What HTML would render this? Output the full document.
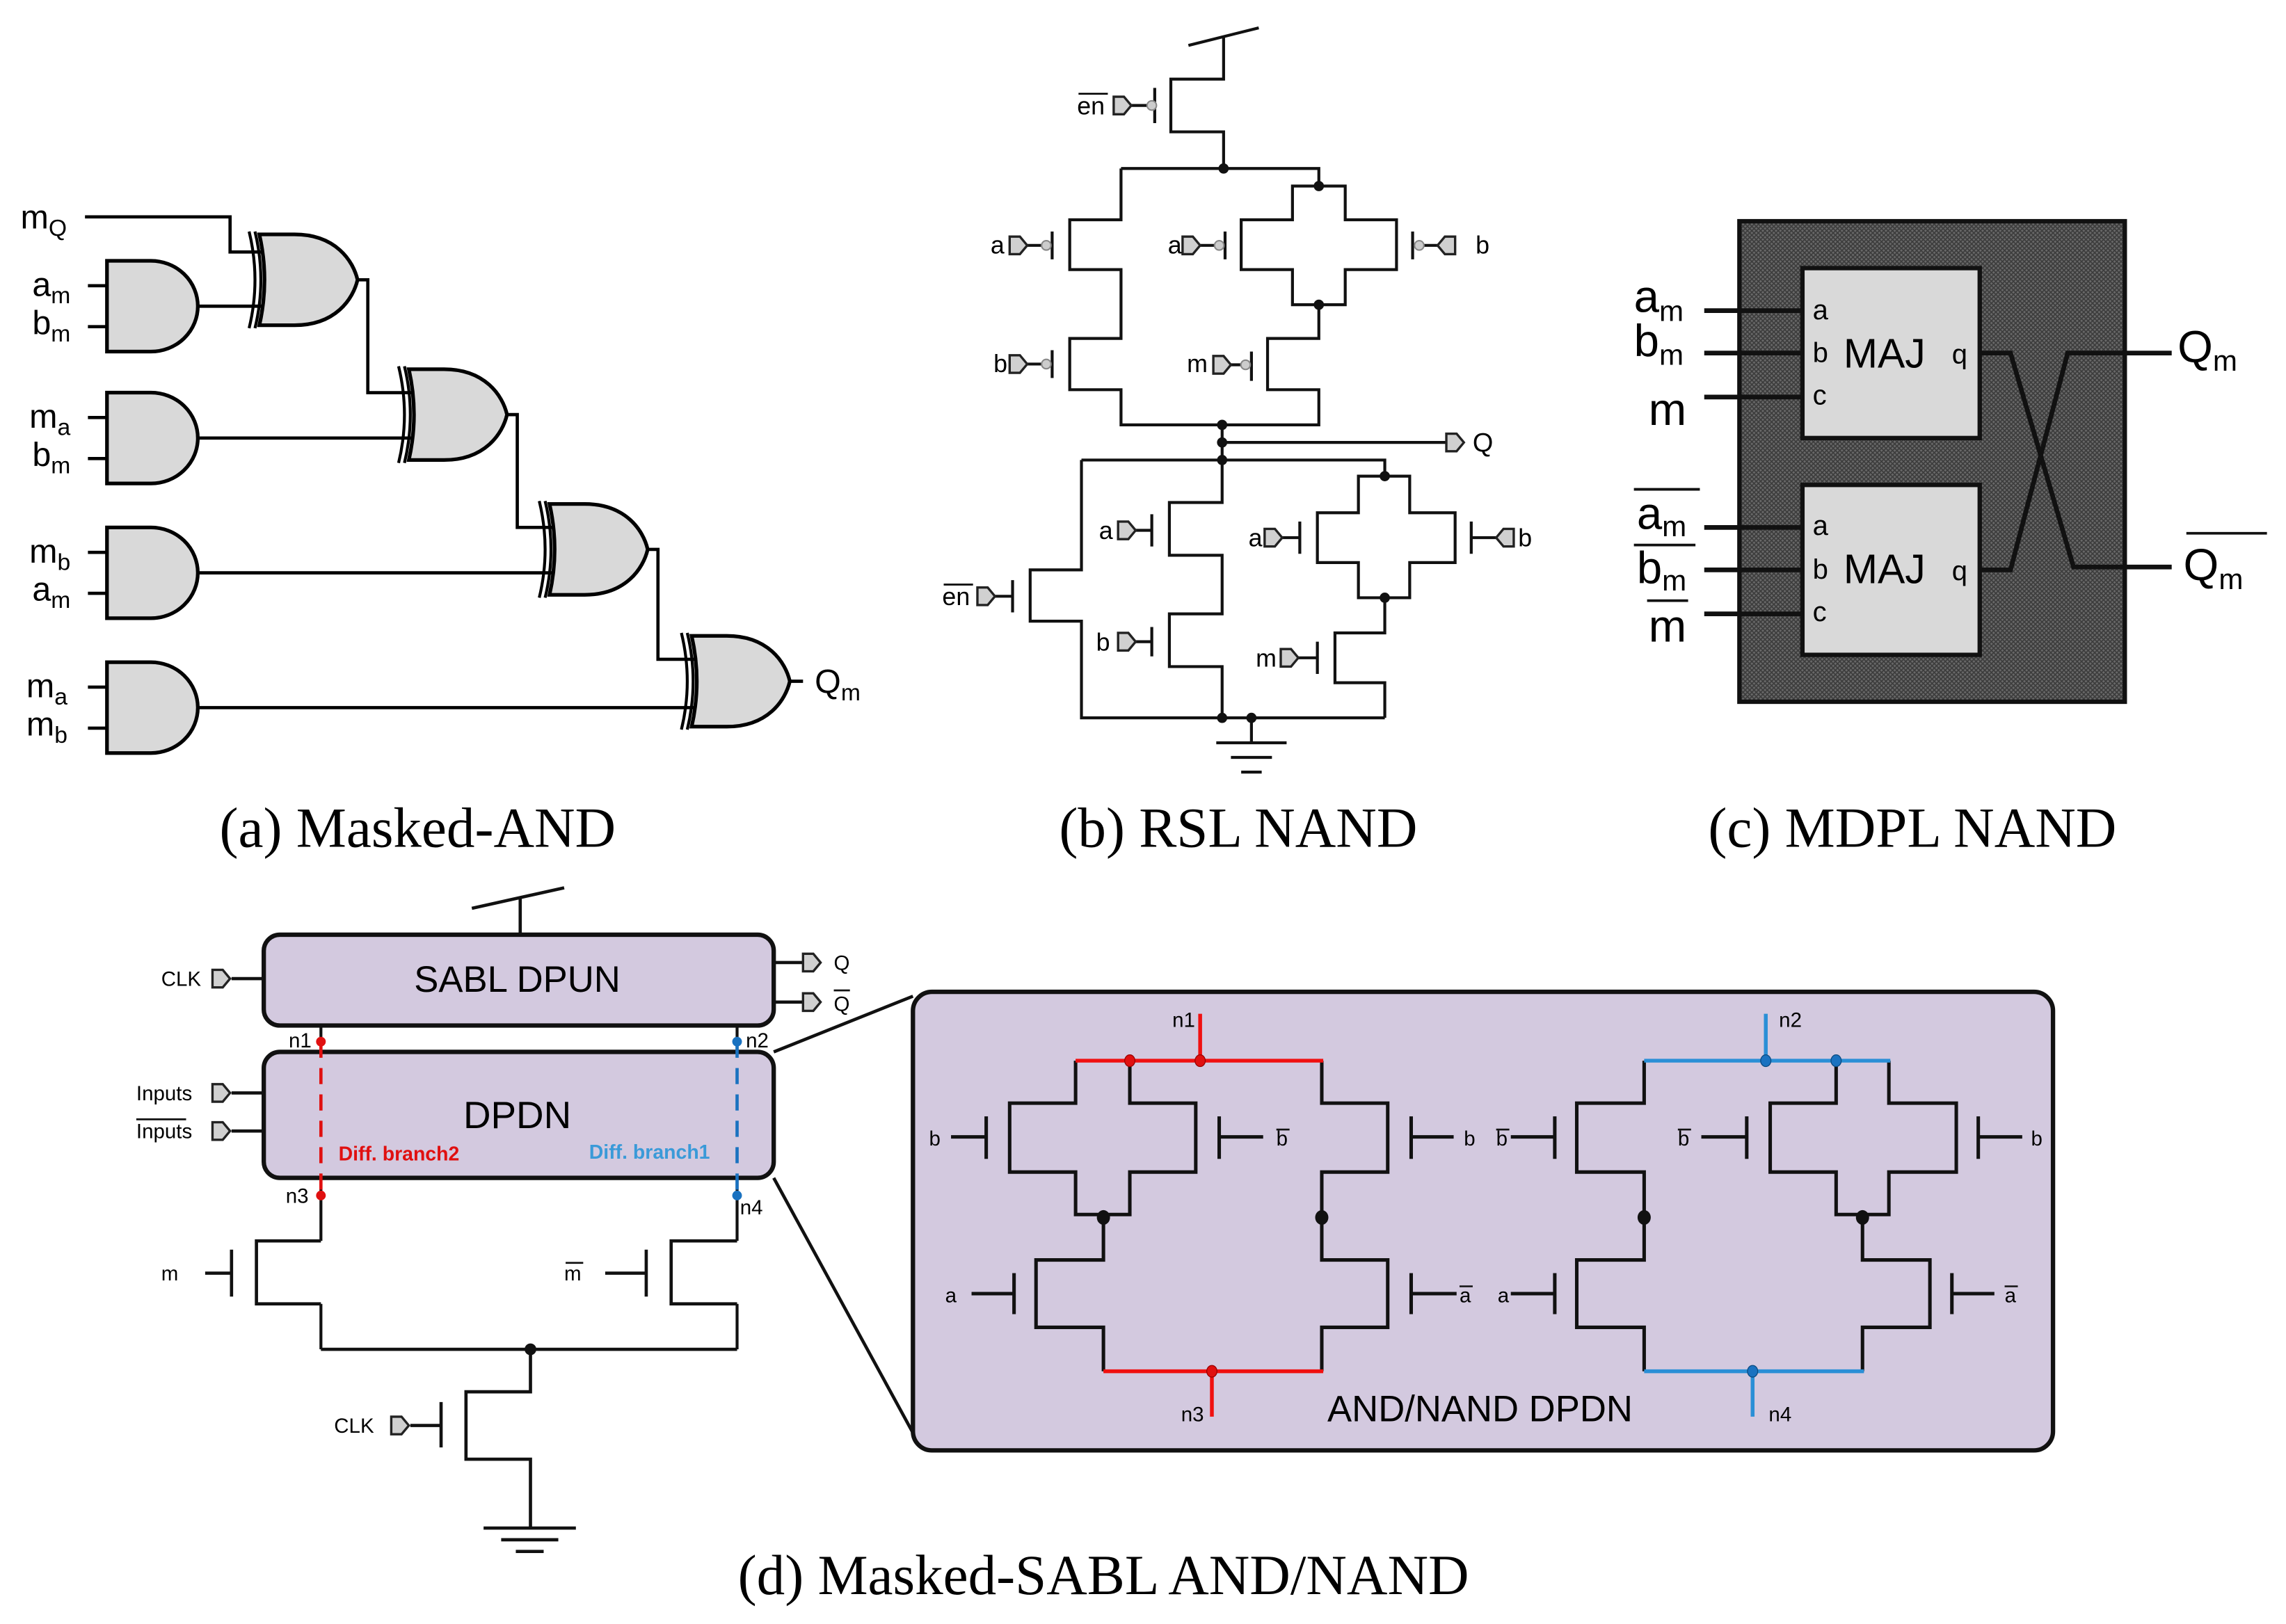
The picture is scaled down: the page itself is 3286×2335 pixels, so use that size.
<!DOCTYPE html>
<html><head><meta charset="utf-8"><style>
html,body{margin:0;padding:0;background:#fff;}
svg{display:block;}
text{font-family:"Liberation Sans",sans-serif;fill:#000;}
.serif{font-family:"Liberation Serif",serif;}
.nar{font-family:"Liberation Sans Narrow","Liberation Sans",sans-serif;}
</style></head><body>
<svg width="3286" height="2335" viewBox="0 0 1560 1108.5" preserveAspectRatio="none" xmlns="http://www.w3.org/2000/svg">
<defs>
<pattern id="hatch" width="3" height="3" patternUnits="userSpaceOnUse">
<rect width="3" height="3" fill="#6a6a6a"/><path d="M0,0 L3,3 M3,0 L0,3" stroke="#3c3c3c" stroke-width="0.8"/>
</pattern>
<g id="and"><path d="M0,0 H30 A32,31 0 0 1 30,62 H0 Z" fill="#d9d9d9" stroke="#000" stroke-width="2.5"/></g>
<g id="xor"><path d="M0,0 H24 C52,0 64,18 67,31 C64,44 52,62 24,62 H0 Q7,31 0,0 Z" fill="#d9d9d9" stroke="#000" stroke-width="2.5"/>
<path d="M-7,-2 Q1,31 -7,64" fill="none" stroke="#000" stroke-width="2"/><path d="M-3,-2 Q5,31 -3,64" fill="none" stroke="#000" stroke-width="2"/></g>
<g id="bufR"><path d="M0,-6 H7 L12,0 L7,6 H0 Z" fill="#d0d0d0" stroke="#222" stroke-width="1.6"/></g>
<g id="bufL"><path d="M0,-6 H-7 L-12,0 L-7,6 H0 Z" fill="#d0d0d0" stroke="#222" stroke-width="1.6"/></g>
</defs>

<!-- ===== Panel (a) ===== -->
<g stroke="#000" stroke-width="2.2" fill="none">
<path d="M58,148 H157 V172 H181"/>
<path d="M135,209 H181"/>
<path d="M244,191 H251 V268 H281"/>
<path d="M135,299 H282"/>
<path d="M346,283 H353 V360 H377"/>
<path d="M135,391 H378"/>
<path d="M442,375 H449 V450 H474"/>
<path d="M135,483 H475"/>
<path d="M539,465 H548"/>
<path d="M60,195 H73 M60,223 H73 M60,285 H73 M60,313 H73 M60,377 H73 M60,405 H73 M60,469 H73 M60,497 H73"/>
</g>
<use href="#and" x="73" y="178"/><use href="#and" x="73" y="268"/><use href="#and" x="73" y="360"/><use href="#and" x="73" y="452"/>
<use href="#xor" x="177" y="160"/><use href="#xor" x="279" y="252"/><use href="#xor" x="375" y="344"/><use href="#xor" x="472" y="434"/>
<g font-size="23">
<text x="14" y="156">m<tspan font-size="16" dy="5">Q</tspan></text>
<text x="22" y="202">a<tspan font-size="16" dy="5">m</tspan></text>
<text x="22" y="228">b<tspan font-size="16" dy="5">m</tspan></text>
<text x="20" y="292">m<tspan font-size="16" dy="5">a</tspan></text>
<text x="22" y="318">b<tspan font-size="16" dy="5">m</tspan></text>
<text x="20" y="384">m<tspan font-size="16" dy="5">b</tspan></text>
<text x="22" y="410">a<tspan font-size="16" dy="5">m</tspan></text>
<text x="18" y="476">m<tspan font-size="16" dy="5">a</tspan></text>
<text x="18" y="502">m<tspan font-size="16" dy="5">b</tspan></text>
<text x="556" y="473">Q<tspan font-size="16" dy="5">m</tspan></text>
</g>
<text class="serif" x="285" y="578" font-size="38.5" text-anchor="middle">(a) Masked-AND</text>

<!-- ===== Panel (b) ===== -->
<g stroke="#111" stroke-width="2" fill="none">
<path d="M811,31 L859,19"/>
<path d="M835,25 V54 H799 V90 H835 V115"/>
<path d="M765,115 H900 V127"/>
<path d="M765,115 V150 H730 V184 H765 V231 H730 V266 H765 V290 H900 V266 H865 V231 H900 V208"/>
<path d="M882,127 H918 V150 H953 V184 H918 V208 H882 V184 H847 V150 H882 Z"/>
<path d="M834,290 V314"/>
<path d="M834,302 H988"/>
<path d="M738,314 H945 V325"/>
<path d="M738,314 V389 H703 V424 H738 V490 H945"/>
<path d="M834,314 V343 H798 V379 H834 V419 H798 V455 H834 V490"/>
<path d="M927,325 H962 V350 H993 V384 H962 V408 H927 V384 H899 V350 H927 Z"/>
<path d="M945,408 V432 H911 V466 H945 V490"/>
<path d="M854,490 V507"/>
<path d="M830,507 H878 M840,517 H868 M847,527 H861"/>
<path d="M788,60 V84 M718,158 V177 M836,158 V177 M964,158 V177 M718,239 V258 M854,240 V260"/>
<path d="M691,396 V418 M786,351 V373 M786,428 V448 M887,356 V378 M1004,356 V378 M899,438 V460"/>
<path d="M772,72 H785 M700,167.5 H711 M817,167.5 H833 M967,167.5 H982 M700,248.5 H711 M840,249 H851"/>
<path d="M678,407 H691 M773,362 H786 M773,438 H786 M874,367 H887 M1004,367 H1024 M885,449 H899"/>
</g>
<g fill="#111">
<circle cx="835" cy="115" r="3.5"/><circle cx="900" cy="127" r="3.5"/><circle cx="900" cy="208" r="3.5"/>
<circle cx="834" cy="290" r="3.5"/><circle cx="834" cy="302" r="3.5"/><circle cx="834" cy="314" r="3.5"/>
<circle cx="945" cy="325" r="3.5"/><circle cx="945" cy="408" r="3.5"/><circle cx="834" cy="490" r="3.5"/><circle cx="854" cy="490" r="3.5"/>
</g>
<g fill="#ccc" stroke="#888" stroke-width="1"><circle cx="786" cy="72" r="3.2"/><circle cx="714" cy="167.5" r="3.2"/><circle cx="832" cy="167.5" r="3.2"/><circle cx="968.5" cy="167.5" r="3.2"/><circle cx="714" cy="248.5" r="3.2"/><circle cx="850" cy="249" r="3.2"/></g>
<use href="#bufR" x="760" y="72"/><use href="#bufR" x="689" y="167.5"/><use href="#bufR" x="807" y="167.5"/><use href="#bufL" x="993" y="167.5"/>
<use href="#bufR" x="689" y="248.5"/><use href="#bufR" x="828" y="249"/><use href="#bufR" x="987" y="302"/>
<use href="#bufR" x="667" y="407"/><use href="#bufR" x="763" y="362"/><use href="#bufR" x="763" y="438"/><use href="#bufR" x="863" y="367"/><use href="#bufL" x="1033" y="367"/><use href="#bufR" x="874" y="449"/>
<g font-size="17">
<text x="735" y="78">en</text><path d="M736,64 H756" stroke="#000" stroke-width="1.3"/>
<text x="676" y="173">a</text><text x="797" y="173">a</text><text x="1007" y="173">b</text>
<text x="678" y="254">b</text><text x="810" y="254">m</text>
<text x="1005" y="308" font-size="18">Q</text>
<text x="643" y="413">en</text><path d="M644,399 H664" stroke="#000" stroke-width="1.3"/>
<text x="750" y="368">a</text><text x="748" y="444">b</text><text x="852" y="373">a</text><text x="1036" y="373">b</text><text x="857" y="455">m</text>
</g>
<text class="serif" x="845" y="578" font-size="38.5" text-anchor="middle">(b) RSL NAND</text>

<!-- ===== Panel (c) ===== -->
<rect x="1187" y="151" width="263" height="328" fill="url(#hatch)" stroke="#111" stroke-width="3"/>
<rect x="1230" y="183" width="121" height="116" fill="#d9d9d9" stroke="#111" stroke-width="3"/>
<rect x="1230" y="331" width="121" height="116" fill="#d9d9d9" stroke="#111" stroke-width="3"/>
<g stroke="#111" stroke-width="3.2" fill="none">
<path d="M1163,212 H1230 M1163,241 H1230 M1163,271 H1230 M1163,360 H1230 M1163,389 H1230 M1163,419 H1230"/>
<path d="M1351,241 H1372 L1415,387 H1482"/>
<path d="M1351,389 H1372 L1411,241 H1482"/>
</g>
<g font-size="31">
<text x="1115" y="213">a<tspan font-size="20" dy="6">m</tspan></text>
<text x="1115" y="243">b<tspan font-size="20" dy="6">m</tspan></text>
<text x="1125" y="290">m</text>
<text x="1117" y="361">a<tspan font-size="20" dy="5">m</tspan></text>
<text x="1117" y="398">b<tspan font-size="20" dy="5">m</tspan></text>
<text x="1125" y="438">m</text>
<text x="1486" y="247">Q<tspan font-size="20" dy="6">m</tspan></text>
<text x="1490" y="396">Q<tspan font-size="20" dy="6">m</tspan></text>
</g>
<g stroke="#111" stroke-width="1.8"><path d="M1115,334 H1160 M1115,372 H1157 M1124,410 H1152 M1492,364 H1547"/></g>
<g font-size="19"><text x="1237" y="218">a</text><text x="1237" y="247">b</text><text x="1237" y="276">c</text><text x="1332" y="248">q</text>
<text x="1237" y="365">a</text><text x="1237" y="395">b</text><text x="1237" y="424">c</text><text x="1332" y="396">q</text></g>
<g font-size="28"><text x="1258" y="251">MAJ</text><text x="1258" y="398">MAJ</text></g>
<text class="serif" x="1305" y="578" font-size="38.5" text-anchor="middle">(c) MDPL NAND</text>

<!-- ===== Panel (d) ===== -->
<g stroke="#111" stroke-width="2.2" fill="none">
<path d="M322,620 L385,606"/><path d="M355,613 V638"/>
<path d="M528,718 L623,680"/><path d="M528,804 L623,978"/>
<path d="M158,668 H180 M158,746 H180 M158,772 H180 M528,657 H548 M528,684 H548"/>
</g>
<rect x="180" y="638" width="348" height="62" rx="11" fill="#d3c9df" stroke="#111" stroke-width="3"/>
<rect x="180" y="718" width="348" height="86" rx="11" fill="#d3c9df" stroke="#111" stroke-width="3"/>
<rect x="623" y="677" width="778" height="313" rx="13" fill="#d3c9df" stroke="#111" stroke-width="3"/>
<use href="#bufR" x="145" y="668"/><use href="#bufR" x="145" y="746"/><use href="#bufR" x="145" y="772"/><use href="#bufR" x="548" y="657"/><use href="#bufR" x="548" y="684"/>
<text x="353" y="677" font-size="25" text-anchor="middle" class="nar">SABL DPUN</text>
<text x="353" y="770" font-size="26" text-anchor="middle" class="nar">DPDN</text>
<g font-size="14" class="nar"><text x="110" y="673">CLK</text><text x="93" y="751">Inputs</text><text x="93" y="777">Inputs</text>
<text x="569" y="662">Q</text><text x="569" y="690">Q</text>
<text x="197" y="715">n1</text><text x="509" y="715">n2</text><text x="195" y="821">n3</text><text x="505" y="829">n4</text>
<text x="110" y="874">m</text><text x="385" y="874">m</text><text x="228" y="978">CLK</text></g>
<path d="M93,764 H127 M569,676 H580 M386,862 H398" stroke="#111" stroke-width="1.3"/>
<path d="M219,700 V718 M219,804 V847 M219,890 V921 M503,700 V718 M503,804 V847 M503,890 V921" stroke="#111" stroke-width="2"/>
<path d="M219,711 V816" stroke="#e01010" stroke-width="2.2" stroke-dasharray="11,7"/>
<path d="M503,711 V816" stroke="#1a72c0" stroke-width="2.2" stroke-dasharray="11,7"/>
<circle cx="219" cy="711" r="3.3" fill="#e01010"/><circle cx="219" cy="816" r="3.3" fill="#e01010"/>
<circle cx="503" cy="711" r="3.3" fill="#1a72c0"/><circle cx="503" cy="816" r="3.3" fill="#1a72c0"/>
<text x="231" y="792" font-size="13.5" font-weight="bold" class="nar" style="fill:#e01010">Diff. branch2</text>
<text x="402" y="791" font-size="13.5" font-weight="bold" class="nar" style="fill:#3a9ad8">Diff. branch1</text>
<g stroke="#111" stroke-width="2.2" fill="none">
<path d="M219,847 H175 V890 H219"/><path d="M503,847 H458 V890 H503"/>
<path d="M219,921 H503"/><path d="M362,921 V950 H318 V996 H362 V1043"/>
<path d="M158,853 V885 M140,869 H158 M441,853 V885 M413,869 H441 M301,957 V988 M280,973 H301"/>
<path d="M330,1043 H393 M342,1051 H381 M352,1059 H371"/>
</g>
<circle cx="362" cy="921" r="4" fill="#111"/>
<use href="#bufR" x="267" y="973"/>

<g stroke="#111" stroke-width="2.4" fill="none">
<path d="M734,724 V753 H689 V800 H734 V829 H771 V800 H816 V753 H771 V724"/>
<path d="M753,831 V860 H707 V906 H753 V936"/>
<path d="M902,724 V753 H947 V800 H902 V860 H947 V906 H902 V936"/>
<path d="M673,762 V791 M649,776 H673 M832,762 V791 M832,776 H862 M963,762 V791 M963,776 H992"/>
<path d="M692,869 V897 M663,883 H692 M963,869 V897 M963,883 H994"/>
<path d="M1122,724 V753 H1076 V800 H1122 V860 H1076 V906 H1122 V936"/>
<path d="M1253,724 V753 H1208 V800 H1253 V829 H1289 V800 H1335 V753 H1289 V724"/>
<path d="M1271,831 V860 H1317 V906 H1271 V936"/>
<path d="M1061,762 V791 M1031,776 H1061 M1192,762 V791 M1161,776 H1192 M1350,762 V791 M1350,776 H1380"/>
<path d="M1061,869 V897 M1031,883 H1061 M1332,869 V897 M1332,883 H1361"/>
</g>
<g fill="#111"><ellipse cx="753" cy="831" rx="4.5" ry="5"/><ellipse cx="902" cy="831" rx="4.5" ry="5"/><ellipse cx="1122" cy="831" rx="4.5" ry="5"/><ellipse cx="1271" cy="831" rx="4.5" ry="5"/></g>
<g stroke="#f01010" stroke-width="2.6" fill="none"><path d="M734,724 H903 M819,692 V724 M753,936 H903 M827,936 V967"/></g>
<g stroke="#2a8fd6" stroke-width="2.6" fill="none"><path d="M1122,724 H1290 M1205,692 V724 M1122,936 H1272 M1196,936 V967"/></g>
<g fill="#e01010" stroke="#900" stroke-width="0.6"><ellipse cx="771" cy="724" rx="3.5" ry="4"/><ellipse cx="819" cy="724" rx="3.5" ry="4"/><ellipse cx="827" cy="936" rx="3.5" ry="4"/></g>
<g fill="#1a72c0" stroke="#0a4a80" stroke-width="0.6"><ellipse cx="1205" cy="724" rx="3.5" ry="4"/><ellipse cx="1253" cy="724" rx="3.5" ry="4"/><ellipse cx="1196" cy="936" rx="3.5" ry="4"/></g>
<g font-size="14" class="nar">
<text x="800" y="701">n1</text><text x="1214" y="701">n2</text><text x="806" y="970">n3</text><text x="1207" y="970">n4</text>
<text x="634" y="782">b</text><text x="871" y="782">b</text><text x="999" y="782">b</text><text x="1021" y="782">b</text><text x="1145" y="782">b</text><text x="1386" y="782">b</text>
<text x="645" y="889">a</text><text x="996" y="889">a</text><text x="1022" y="889">a</text><text x="1368" y="889">a</text>
</g>
<path d="M871,771 H880 M1021,771 H1030 M1145,771 H1154 M996,878 H1005 M1368,878 H1377" stroke="#111" stroke-width="1.2"/>
<text x="1010" y="970" font-size="25" text-anchor="middle" class="nar">AND/NAND DPDN</text>
<text class="serif" x="753" y="1088" font-size="38.5" text-anchor="middle">(d) Masked-SABL AND/NAND</text>
</svg>
</body></html>
